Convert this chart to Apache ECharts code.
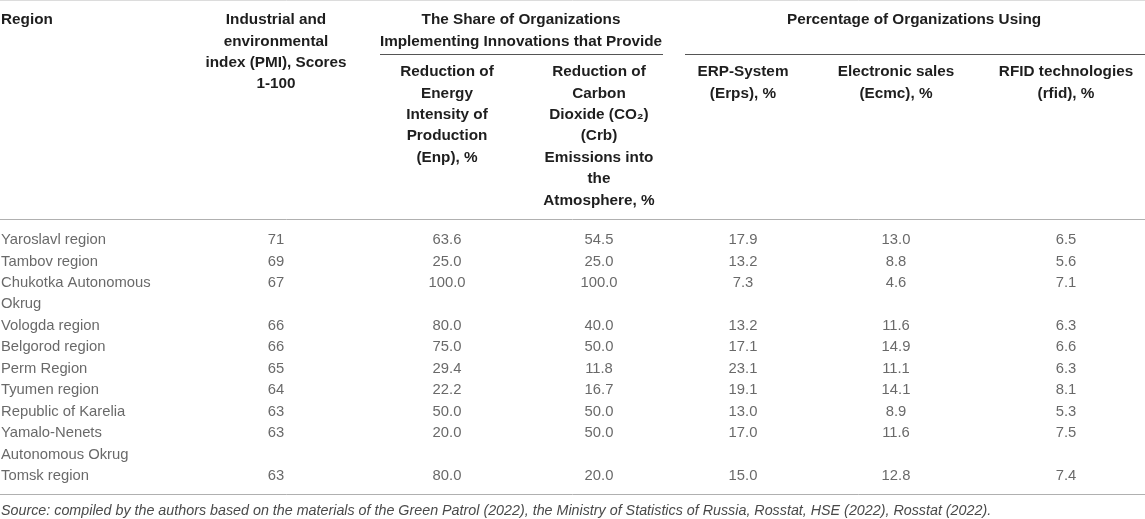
<!DOCTYPE html>
<html>
<head>
<meta charset="utf-8">
<script src="https://cdn.jsdelivr.net/npm/echarts@6/dist/echarts.min.js"></script>
<style>
  html, body { margin: 0; padding: 0; background: #fff; }
  #main { width: 1145px; height: 519px; }
</style>
</head>
<body>
<div id="main"></div>
<script>
// table data
var regions = ['Yaroslavl region', 'Tambov region', 'Chukotka Autonomous\nOkrug', 'Vologda region',
    'Belgorod region', 'Perm Region', 'Tyumen region', 'Republic of Karelia',
    'Yamalo-Nenets\nAutonomous Okrug', 'Tomsk region'];
var pmi = [71, 69, 67, 66, 66, 65, 64, 63, 63, 63];
var enp = [63.6, 25.0, 100.0, 80.0, 75.0, 29.4, 22.2, 50.0, 20.0, 80.0];
var crb = [54.5, 25.0, 100.0, 40.0, 50.0, 11.8, 16.7, 50.0, 50.0, 20.0];
var erps = [17.9, 13.2, 7.3, 13.2, 17.1, 23.1, 19.1, 13.0, 17.0, 15.0];
var ecmc = [13.0, 8.8, 4.6, 11.6, 14.9, 11.1, 14.1, 8.9, 11.6, 12.8];
var rfid = [6.5, 5.6, 7.1, 6.3, 6.6, 6.3, 8.1, 5.3, 7.5, 7.4];

var headers = ['Region', 'Industrial and\nenvironmental\nindex (PMI), Scores\n1-100'];
var group1 = 'The Share of Organizations\nImplementing Innovations that Provide';
var group2 = 'Percentage of Organizations Using';
var subHeaders = ['Reduction of\nEnergy\nIntensity of\nProduction\n(Enp), %',
    'Reduction of\nCarbon\nDioxide (CO\u2082)\n(Crb)\nEmissions into\nthe\nAtmosphere, %',
    'ERP-System\n(Erps), %', 'Electronic sales\n(Ecmc), %', 'RFID technologies\n(rfid), %'];
var source = 'Source: compiled by the authors based on the materials of the Green Patrol (2022), the Ministry of Statistics of Russia, Rosstat, HSE (2022), Rosstat (2022).';

// layout
var colX = [1, 276, 447, 599, 743, 896, 1066];
var LH = 21.4;
var FONT = "'Liberation Sans', Arial, sans-serif";
var textColor = '#444';
var headColor = '#1e1e1e';

// line index of each row (some region names wrap onto two lines)
var rowLine = [];
var ln = 0;
for (var i = 0; i < regions.length; i++) {
    rowLine.push(ln);
    ln += regions[i].split('\n').length;
}

function cells(col, values, digits) {
    var out = [];
    for (var i = 0; i < values.length; i++) {
        var txt = typeof values[i] === 'number' ? values[i].toFixed(digits) : values[i];
        out.push([colX[col], rowLine[i], txt]);
    }
    return out;
}

function cellSeries(col, values, digits, align) {
    return {
        type: 'scatter',
        symbolSize: 0,
        silent: true,
        data: cells(col, values, digits),
        label: {
            show: true,
            position: 'inside',
            align: align,
            verticalAlign: 'top',
            offset: [0, -LH / 2],
            lineHeight: LH,
            fontFamily: FONT,
            fontSize: 14.8,
            color: textColor,
            formatter: function (p) { return p.value[2]; }
        }
    };
}

function headText(x, y, text, align) {
    return {
        type: 'text',
        x: x,
        y: y - LH / 2,
        silent: true,
        style: {
            text: text,
            align: align,
            verticalAlign: 'top',
            lineHeight: LH,
            fontFamily: FONT,
            fontSize: 15.3,
            fontWeight: 'bold',
            fill: headColor
        }
    };
}

function hLine(x1, x2, y, color) {
    return {
        type: 'line',
        silent: true,
        shape: { x1: x1, y1: y, x2: x2, y2: y },
        style: { stroke: color, lineWidth: 1 }
    };
}

var graphics = [
    hLine(0, 1145, 0.5, '#dcdcdc'),
    headText(colX[0], 20, headers[0], 'left'),
    headText(colX[1], 20, headers[1], 'center'),
    headText(521, 20, group1, 'center'),
    headText(914, 20, group2, 'center'),
    hLine(380, 663, 54.5, '#555'),
    hLine(685, 1145, 54.5, '#555'),
    hLine(0, 1145, 219.5, '#b0b0b0'),
    hLine(0, 1145, 494.5, '#b0b0b0'),
    {
        type: 'text', x: 1, y: 511 - LH / 2, silent: true,
        style: {
            text: source, align: 'left', verticalAlign: 'top', lineHeight: LH,
            fontFamily: FONT, fontSize: 14.3, fontStyle: 'italic', fill: '#4a4a4a'
        }
    }
];
for (var k = 0; k < subHeaders.length; k++) {
    graphics.push(headText(colX[k + 2], 72, subHeaders[k], 'center'));
}

var myChart = echarts.init(document.getElementById('main'), null, { renderer: 'canvas' });
var option = {
    animation: false,
    backgroundColor: '#fff',
    grid: { left: 0, right: 0, top: 240, bottom: 519 - 476 },
    xAxis: { type: 'value', min: 0, max: 1145, show: false },
    yAxis: { type: 'value', min: 0, max: ln - 1, inverse: true, show: false },
    graphic: graphics,
    series: [
        cellSeries(0, regions, 0, 'left'),
        cellSeries(1, pmi, 0, 'center'),
        cellSeries(2, enp, 1, 'center'),
        cellSeries(3, crb, 1, 'center'),
        cellSeries(4, erps, 1, 'center'),
        cellSeries(5, ecmc, 1, 'center'),
        cellSeries(6, rfid, 1, 'center')
    ]
};
myChart.setOption(option);
</script>
</body>
</html>
